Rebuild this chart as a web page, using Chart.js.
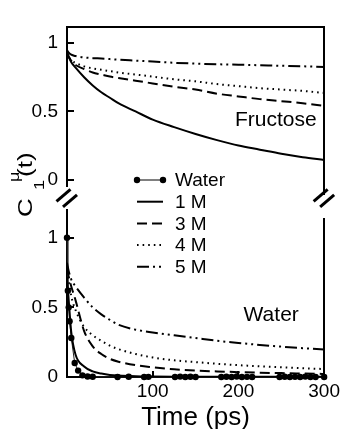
<!DOCTYPE html>
<html>
<head>
<meta charset="utf-8">
<script src="https://cdn.jsdelivr.net/npm/chart.js@4.4.0/dist/chart.umd.min.js"></script>
<style>
  html, body { margin: 0; padding: 0; background: #fff; }
</style>
</head>
<body>
<canvas id="relax" width="349" height="429"></canvas>
<script>
// sample times (ps) for the solution curves
var times = [0, 2, 5, 10, 20, 30, 40, 50, 60, 80, 100, 125, 150, 175, 200, 225, 250, 275, 300];

// fructose panel
var fru1M = [0.93, 0.90, 0.86, 0.82, 0.75, 0.69, 0.64, 0.60, 0.56, 0.50, 0.44, 0.385, 0.335, 0.29, 0.25, 0.22, 0.19, 0.165, 0.145];
var fru3M = [0.93, 0.90, 0.87, 0.84, 0.81, 0.785, 0.77, 0.755, 0.745, 0.725, 0.705, 0.68, 0.66, 0.63, 0.61, 0.59, 0.575, 0.56, 0.54];
var fru4M = [0.93, 0.90, 0.875, 0.855, 0.83, 0.815, 0.805, 0.795, 0.785, 0.77, 0.755, 0.735, 0.72, 0.70, 0.685, 0.67, 0.66, 0.65, 0.635];
var fru5M = [0.95, 0.93, 0.915, 0.905, 0.895, 0.89, 0.887, 0.883, 0.879, 0.872, 0.865, 0.856, 0.85, 0.845, 0.842, 0.838, 0.834, 0.83, 0.826];

// water panel
var wat1M = [0.72, 0.55, 0.32, 0.16, 0.075, 0.04, 0.025, 0.015, 0.01, 0.005, 0.003, 0.002, 0.002, 0.001, 0.001, 0.001, 0.001, 0.001, 0.001];
var wat3M = [0.78, 0.72, 0.65, 0.55, 0.33, 0.22, 0.165, 0.13, 0.11, 0.085, 0.07, 0.055, 0.047, 0.04, 0.035, 0.031, 0.028, 0.025, 0.022];
var wat4M = [0.80, 0.70, 0.58, 0.48, 0.36, 0.30, 0.26, 0.225, 0.20, 0.165, 0.14, 0.12, 0.107, 0.095, 0.085, 0.077, 0.07, 0.063, 0.057];
var wat5M = [0.82, 0.76, 0.70, 0.65, 0.57, 0.50, 0.45, 0.41, 0.375, 0.34, 0.32, 0.30, 0.28, 0.26, 0.245, 0.23, 0.218, 0.207, 0.197];

// pure water (points)
var pureTimes = [0, 1, 2, 3, 5, 9, 13, 18, 24, 30, 59, 72, 90, 95, 126, 132, 138, 144, 150, 180, 186, 192, 198, 204, 210, 216, 248, 254, 260, 266, 272, 278, 284, 290, 300];
var pureValues = [1.0, 0.62, 0.5, 0.4, 0.28, 0.1, 0.046, 0.012, 0.004, 0.002, 0, 0.002, 0, 0.001, 0, 0.003, 0, 0.002, 0, 0, 0.002, 0, 0.004, 0, 0.001, 0, 0, 0.002, 0, 0.001, 0, 0.003, 0, 0, 0];

var xTicks = [100, 200, 300];
var yTicks = [0, 0.5, 1];
var legendLabels = ['Water', '1 M', '3 M', '4 M', '5 M'];

var FONT = '"Liberation Sans", Arial, sans-serif';
var DASH_1M = [];
var DASH_3M = [10, 5];
var DASH_4M = [1.6, 4];
var DASH_5M = [12, 4, 2, 4, 2, 4];

function pts(xs, ys) {
  return xs.map(function(x, i) { return { x: x, y: ys[i] }; });
}

function curve(label, ys, axis, dash) {
  return {
    label: label,
    data: pts(times, ys),
    yAxisID: axis,
    borderColor: '#000',
    borderWidth: 2,
    borderDash: dash,
    pointRadius: 0,
    fill: false,
    cubicInterpolationMode: 'monotone'
  };
}

var datasets = [
  curve('1 M', fru1M, 'yTop', DASH_1M),
  curve('3 M', fru3M, 'yTop', DASH_3M),
  curve('4 M', fru4M, 'yTop', DASH_4M),
  curve('5 M', fru5M, 'yTop', DASH_5M),
  curve('1 M', wat1M, 'yBot', DASH_1M),
  curve('3 M', wat3M, 'yBot', DASH_3M),
  curve('4 M', wat4M, 'yBot', DASH_4M),
  curve('5 M', wat5M, 'yBot', DASH_5M),
  {
    label: 'Water',
    data: pts(pureTimes, pureValues),
    yAxisID: 'yBot',
    borderColor: '#222',
    borderWidth: 1,
    pointRadius: 3.2,
    pointBackgroundColor: '#000',
    pointBorderWidth: 0,
    fill: false,
    tension: 0,
    clip: 6
  }
];

function yAxis(weight, min, max) {
  return {
    type: 'linear', position: 'left', stack: 'L', stackWeight: weight,
    min: min, max: max,
    border: { color: '#000', width: 2 },
    grid: { drawOnChartArea: false, color: '#000', lineWidth: 2, tickLength: -7 },
    ticks: { color: '#000', font: { family: FONT, size: 19 }, padding: 16,
      callback: function(v) { return String(v); } },
    afterBuildTicks: function(s) { s.ticks = yTicks.map(function(v) { return { value: v }; }); },
    afterFit: function(s) { s.width = 40; }
  };
}

function rAxis(weight) {
  return {
    type: 'linear', position: 'right', stack: 'R', stackWeight: weight,
    border: { color: '#000', width: 2 },
    grid: { display: false },
    ticks: { display: false },
    afterFit: function(s) { s.width = 0; }
  };
}

var extras = {
  id: 'extras',
  afterDraw: function(chart) {
    var ctx = chart.ctx;
    var ca = chart.chartArea;
    var x = chart.scales.x, yT = chart.scales.yTop, yB = chart.scales.yBot;
    ctx.save();
    ctx.fillStyle = '#000';
    ctx.strokeStyle = '#000';

    // axis breaks
    var cy = (yT.bottom + yB.top) / 2;
    ctx.lineWidth = 3;
    ctx.setLineDash([]);
    [ca.left, ca.right].forEach(function(ax) {
      [[-3.5, -2.5], [3, 3]].forEach(function(o) {
        ctx.beginPath();
        ctx.moveTo(ax + o[0] - 7, cy + o[1] + 6);
        ctx.lineTo(ax + o[0] + 7, cy + o[1] - 6);
        ctx.stroke();
      });
    });

    // panel labels
    ctx.font = '21px ' + FONT;
    ctx.textBaseline = 'alphabetic';
    ctx.textAlign = 'left';
    ctx.fillText('Fructose', x.getPixelForValue(196), yT.getPixelForValue(0.39));
    ctx.fillText('Water', x.getPixelForValue(206), yB.getPixelForValue(0.4));

    // legend
    var styles = [null, DASH_1M, DASH_3M, DASH_4M, DASH_5M];
    var lx0 = 137, lx1 = 163, top = 180, step = 21.7;
    ctx.font = '19px ' + FONT;
    ctx.textBaseline = 'middle';
    legendLabels.forEach(function(lab, i) {
      var ly = top + i * step;
      ctx.beginPath();
      if (i === 0) {
        ctx.lineWidth = 1;
        ctx.setLineDash([]);
      } else {
        ctx.lineWidth = 2;
        ctx.setLineDash(styles[i]);
      }
      ctx.moveTo(lx0, ly);
      ctx.lineTo(lx1, ly);
      ctx.stroke();
      if (i === 0) {
        [lx0, lx1].forEach(function(px) {
          ctx.beginPath();
          ctx.arc(px, ly, 3.2, 0, Math.PI * 2);
          ctx.fill();
        });
      }
      ctx.setLineDash([]);
      ctx.fillText(lab, 175, ly + 1);
    });

    // y axis label C_1^mu(t)
    ctx.translate(32, 217);
    ctx.rotate(-Math.PI / 2);
    ctx.scale(1, 0.78);
    ctx.textBaseline = 'alphabetic';
    ctx.font = '26px ' + FONT;
    ctx.fillText('C', 0, 0);
    ctx.font = '18px ' + FONT;
    ctx.fillText('1', 27, 16);
    ctx.fillText('\u03bc', 35, -17);
    ctx.font = '26px ' + FONT;
    ctx.fillText('(t)', 40, 0);
    ctx.restore();
  }
};

new Chart(document.getElementById('relax'), {
  type: 'line',
  data: { datasets: datasets },
  options: {
    responsive: false,
    animation: false,
    layout: { padding: { left: 27, right: 20, top: 13, bottom: 0 } },
    plugins: { legend: { display: false }, tooltip: { enabled: false } },
    scales: {
      x: {
        type: 'linear', position: 'bottom', min: 0, max: 300,
        border: { color: '#000', width: 2 },
        grid: { drawOnChartArea: false, color: '#000', lineWidth: 2, tickLength: -6 },
        ticks: { color: '#000', font: { family: FONT, size: 19 }, padding: 9, maxRotation: 0 },
        afterBuildTicks: function(s) { s.ticks = xTicks.map(function(v) { return { value: v }; }); },
        afterFit: function(s) { s.height = 52; },
        title: { display: true, text: 'Time (ps)', color: '#000', padding: 0,
          font: { family: FONT, size: 26, lineHeight: 0.84 } }
      },
      xTop: {
        type: 'linear', position: 'top', min: 0, max: 300,
        border: { color: '#000', width: 2 },
        grid: { display: false },
        ticks: { display: false },
        afterFit: function(s) { s.height = 0; }
      },
      yBot: yAxis(174, 0, 1.2),
      yGap: { type: 'linear', position: 'left', stack: 'L', stackWeight: 25, display: false },
      yTop: yAxis(165, -0.045, 1.115),
      yBotR: rAxis(174),
      yGapR: { type: 'linear', position: 'right', stack: 'R', stackWeight: 25, display: false },
      yTopR: rAxis(165)
    }
  },
  plugins: [extras]
});
</script>
</body>
</html>
